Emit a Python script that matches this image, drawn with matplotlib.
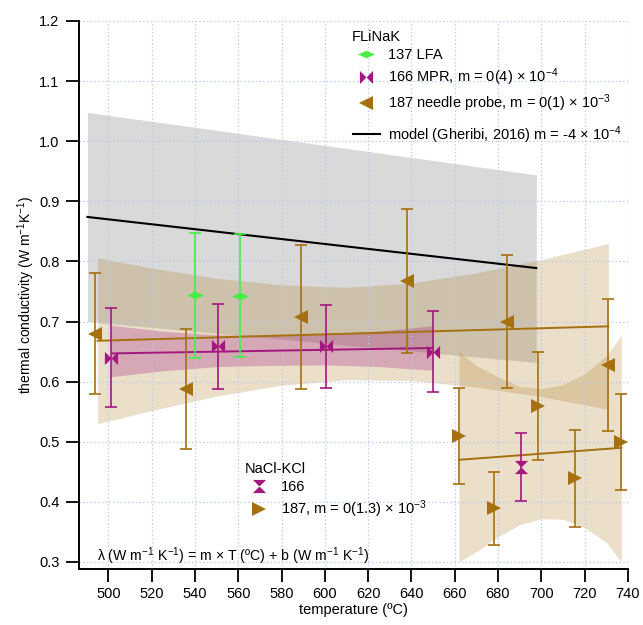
import matplotlib
matplotlib.use("Agg")
import matplotlib.pyplot as plt
from matplotlib.path import Path
from matplotlib.lines import Line2D

plt.rcParams["font.family"] = ["Liberation Sans", "DejaVu Sans"]
plt.rcParams["mathtext.default"] = "regular"

# ---- data ----
# FLiNaK, 137 LFA
lfa_T = [540, 561]
lfa_k = [0.744, 0.743]
lfa_err = [0.104, 0.102]

# FLiNaK, 166 MPR
mpr_T = [501, 550.5, 600.5, 650]
mpr_k = [0.640, 0.659, 0.659, 0.650]
mpr_err = [0.082, 0.071, 0.069, 0.067]
mpr_fit_T = [502, 650]
mpr_fit_k = [0.647, 0.656]
mpr_band_T = [501, 525, 550, 575, 600, 625, 650]
mpr_band_hi = [0.694, 0.684, 0.678, 0.677, 0.679, 0.684, 0.693]
mpr_band_lo = [0.608, 0.618, 0.625, 0.627, 0.628, 0.625, 0.619]

# FLiNaK, 187 needle probe
fn_T = [494, 536, 589, 638, 684, 731]
fn_k = [0.680, 0.588, 0.708, 0.768, 0.700, 0.628]
fn_err = [0.10, 0.10, 0.12, 0.12, 0.11, 0.11]
fn_fit_T = [495, 731]
fn_fit_k = [0.668, 0.692]
fn_band_T = [495, 520, 550, 580, 610, 640, 670, 700, 731]
fn_band_hi = [0.806, 0.789, 0.772, 0.761, 0.757, 0.764, 0.781, 0.803, 0.830]
fn_band_lo = [0.530, 0.552, 0.576, 0.594, 0.603, 0.602, 0.591, 0.575, 0.554]

# model (Gheribi, 2016)
model_T = [490.3, 697.7]
model_k = [0.874, 0.789]
model_hi = [1.048, 0.944]
model_lo = [0.700, 0.632]

# NaCl-KCl, 166
nm_T = [690.7]
nm_k = [0.458]
nm_err = [0.057]

# NaCl-KCl, 187
nn_T = [662, 678.3, 698.7, 715.5, 737]
nn_k = [0.509, 0.389, 0.559, 0.439, 0.499]
nn_err = [0.08, 0.06, 0.09, 0.08, 0.08]
nn_fit_T = [662, 737]
nn_fit_k = [0.470, 0.490]
nn_band_T = [662, 670, 680, 690, 700, 710, 720, 730, 737]
nn_band_hi = [0.650, 0.627, 0.608, 0.592, 0.588, 0.595, 0.613, 0.643, 0.677]
nn_band_lo = [0.300, 0.317, 0.342, 0.362, 0.372, 0.371, 0.357, 0.333, 0.300]

x_ticks = list(range(500, 741, 20))
y_ticks = [0.3, 0.4, 0.5, 0.6, 0.7, 0.8, 0.9, 1.0, 1.1, 1.2]

BROWN = "#A5700E"
MAGENTA = "#A3177F"
GREEN = "#44EE44"
GRID = "#B3C6F0"

M, L, C = Path.MOVETO, Path.LINETO, Path.CLOSEPOLY
bowtie = Path([(-1, 1), (-1, -1), (0, 0), (-1, 1), (1, 1), (1, -1), (0, 0), (1, 1)],
              [M, L, L, C, M, L, L, C])
hourglass = Path([(-1, 1), (1, 1), (0, 0), (-1, 1), (-1, -1), (1, -1), (0, 0), (-1, -1)],
                 [M, L, L, C, M, L, L, C])
wide_diamond = Path([(-1, 0), (0, 0.45), (1, 0), (0, -0.45), (-1, 0)], [M, L, L, L, C])

fig = plt.figure(figsize=(6.43, 6.25), dpi=100)
ax = fig.add_axes([0.1222, 0.0891, 0.8549, 0.8773])

# bands
ax.fill_between(model_T, model_lo, model_hi, color="#D9D9D9", lw=0, zorder=0.5)
ax.fill_between(fn_band_T, fn_band_lo, fn_band_hi, color=BROWN, alpha=0.22, lw=0, zorder=0.7)
ax.fill_between(nn_band_T, nn_band_lo, nn_band_hi, color=BROWN, alpha=0.22, lw=0, zorder=0.7)
ax.fill_between(mpr_band_T, mpr_band_lo, mpr_band_hi, color=MAGENTA, alpha=0.28, lw=0, zorder=0.8)

# fit / model lines
ax.plot(model_T, model_k, color="black", lw=1.5, zorder=3)
ax.plot(fn_fit_T, fn_fit_k, color=BROWN, lw=1.4, zorder=3)
ax.plot(mpr_fit_T, mpr_fit_k, color=MAGENTA, lw=1.4, zorder=3)
ax.plot(nn_fit_T, nn_fit_k, color=BROWN, lw=1.4, zorder=3)

eb = dict(fmt="none", elinewidth=1.2, capsize=4.5, capthick=1.2, zorder=4)
ax.errorbar(fn_T, fn_k, yerr=fn_err, ecolor=BROWN, **eb)
ax.errorbar(nn_T, nn_k, yerr=nn_err, ecolor=BROWN, **eb)
ax.errorbar(mpr_T, mpr_k, yerr=mpr_err, ecolor=MAGENTA, **eb)
ax.errorbar(nm_T, nm_k, yerr=nm_err, ecolor=MAGENTA, **eb)
ax.errorbar(lfa_T, lfa_k, yerr=lfa_err, ecolor=GREEN, **eb)

mk = dict(linestyle="none", zorder=5, clip_on=False, markeredgewidth=0)
ax.plot(fn_T, fn_k, marker="<", ms=10, color=BROWN, **mk)
ax.plot(nn_T, nn_k, marker=">", ms=10, color=BROWN, **mk)
ax.plot(mpr_T, mpr_k, marker=bowtie, ms=9.5, color=MAGENTA, **mk)
ax.plot(nm_T, nm_k, marker=hourglass, ms=9.5, color=MAGENTA, **mk)
ax.plot(lfa_T, lfa_k, marker=wide_diamond, ms=12, color=GREEN, **mk)

# axes styling
ax.set_xlim(486.2, 740.2)
ax.set_ylim(0.2878, 1.2)
ax.set_xticks(x_ticks)
ax.set_yticks(y_ticks)
ax.set_yticklabels([f"{v:.1f}" for v in y_ticks])
for s in ("top", "right"):
    ax.spines[s].set_visible(False)
for s in ("left", "bottom"):
    ax.spines[s].set_linewidth(1.4)
ax.tick_params(direction="out", length=9.5, width=1.3, labelsize=10.5)
ax.tick_params(axis="x", pad=3)
ax.tick_params(axis="y", pad=4.3)
ax.set_axisbelow("line")
ax.grid(True, color=GRID, linestyle=(0, (1, 2)), linewidth=0.9)

ax.set_xlabel("temperature (ºC)", fontsize=10.5, labelpad=2)
ax.set_ylabel("thermal conductivity (W m$^{-1}$K$^{-1}$)", fontsize=10, labelpad=1.5)

ax.text(0.0335, 0.0243,
        "λ (W m$^{-1}$ K$^{-1}$) = m × T (ºC) + b (W m$^{-1}$ K$^{-1}$)",
        transform=ax.transAxes, fontsize=10.2, va="center", ha="left")

# legends
h_lfa = Line2D([], [], linestyle="none", marker=wide_diamond, ms=12, color=GREEN, mew=0)
h_mpr = Line2D([], [], linestyle="none", marker=bowtie, ms=9.5, color=MAGENTA, mew=0)
h_fn = Line2D([], [], linestyle="none", marker="<", ms=10, color=BROWN, mew=0)
h_model = Line2D([], [], color="black", lw=1.5)
h_nm = Line2D([], [], linestyle="none", marker=hourglass, ms=9.5, color=MAGENTA, mew=0)
h_nn = Line2D([], [], linestyle="none", marker=">", ms=10, color=BROWN, mew=0)

leg_kw = dict(frameon=False, fontsize=10.5, title_fontsize=10.5, alignment="left",
              loc="upper left", borderpad=0, borderaxespad=0, handlelength=1.9,
              handletextpad=0.55, labelspacing=0.3, bbox_transform=fig.transFigure)

leg1 = ax.legend([h_lfa, h_mpr, h_fn],
                 ["137 LFA",
                  "166 MPR, m = 0(4) × 10$^{-4}$",
                  "187 needle probe, m = 0(1) × 10$^{-3}$"],
                 title="FLiNaK", bbox_to_anchor=(352 / 643, 1 - 30 / 625), **leg_kw)
ax.add_artist(leg1)
leg2 = ax.legend([h_model], ["model (Gheribi, 2016) m = -4 × 10$^{-4}$"],
                 bbox_to_anchor=(352.5 / 643, 1 - 124 / 625), **leg_kw)
ax.add_artist(leg2)
ax.legend([h_nm, h_nn], ["166", "187, m = 0(1.3) × 10$^{-3}$"],
          title="NaCl-KCl", bbox_to_anchor=(245 / 643, 1 - 462 / 625), **leg_kw)

fig.savefig("out.png", dpi=100)
